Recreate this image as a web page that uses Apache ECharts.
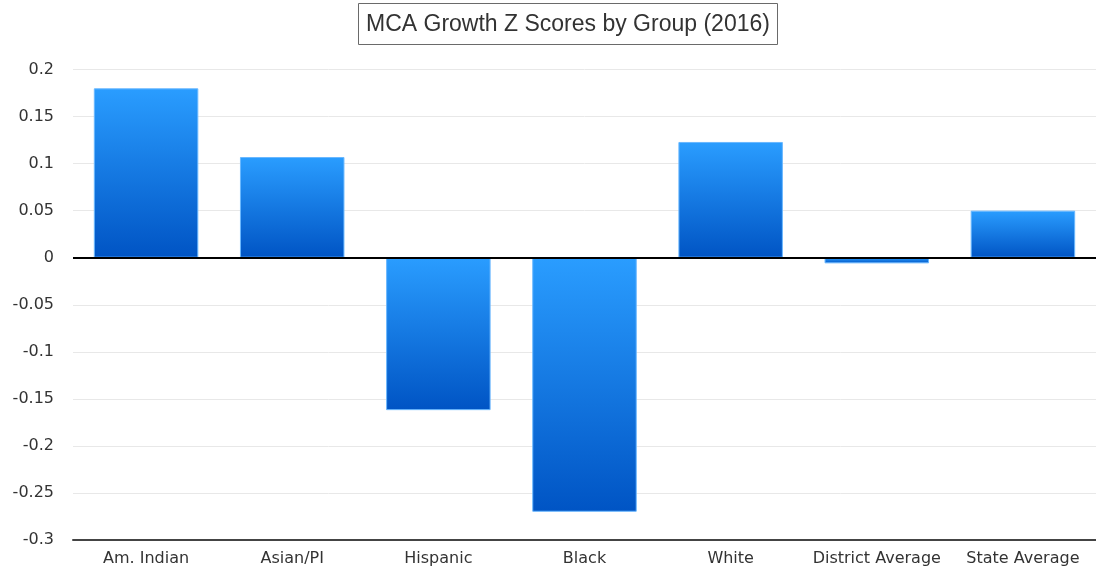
<!DOCTYPE html>
<html>
<head>
<meta charset="utf-8">
<script src="https://cdn.jsdelivr.net/npm/echarts@6/dist/echarts.min.js"></script>
<style>
html,body{margin:0;padding:0;background:#fff;}
#chart{width:1096px;height:571px;}
</style>
</head>
<body>
<div id="chart"></div>
<script>
var categories = ['Am. Indian', 'Asian/PI', 'Hispanic', 'Black', 'White', 'District Average', 'State Average'];
var zScores = [0.180, 0.107, -0.162, -0.270, 0.123, -0.006, 0.050];
var chartTitle = 'MCA Growth Z Scores by Group (2016)';

var chart = echarts.init(document.getElementById('chart'));
var titleFont = 'Liberation Sans, Arial, Helvetica, sans-serif';
var labelFont = 'DejaVu Sans, sans-serif';
chart.setOption({
  animation: false,
  title: {
    text: chartTitle,
    left: 358,
    top: 3,
    padding: [10, 8, 9, 8],
    borderColor: '#6a6a6a',
    borderWidth: 1,
    textStyle: { fontFamily: titleFont, fontSize: 23, fontWeight: 'normal', color: '#333' }
  },
  grid: { left: 73, right: 0, top: 69.5, bottom: 31, containLabel: false },
  xAxis: {
    type: 'category',
    data: categories,
    axisLine: { onZero: false, lineStyle: { color: '#444', width: 2 } },
    axisTick: { show: false },
    axisLabel: { fontFamily: labelFont, fontSize: 16, color: '#333', margin: 11, interval: 0 }
  },
  yAxis: {
    type: 'value',
    min: -0.3,
    max: 0.2,
    interval: 0.05,
    axisLine: { show: false },
    axisTick: { show: false },
    splitLine: { lineStyle: { color: '#e8e8e8', width: 1 } },
    axisLabel: { fontFamily: labelFont, fontSize: 16, color: '#333', margin: 19,
      formatter: function (v) { return String(Math.round(v * 100) / 100); } }
  },
  series: [{
    type: 'bar',
    data: zScores,
    barCategoryGap: '28.5%',
    itemStyle: {
      color: new echarts.graphic.LinearGradient(0, 0, 0, 1, [
        { offset: 0, color: '#2a9dff' },
        { offset: 1, color: '#0054c4' }
      ]),
      borderColor: '#6ab8ff',
      borderWidth: 1
    },
    markLine: {
      silent: true,
      symbol: 'none',
      label: { show: false },
      lineStyle: { color: '#000', width: 2, type: 'solid' },
      data: [{ yAxis: 0 }]
    }
  }]
});
</script>
</body>
</html>
